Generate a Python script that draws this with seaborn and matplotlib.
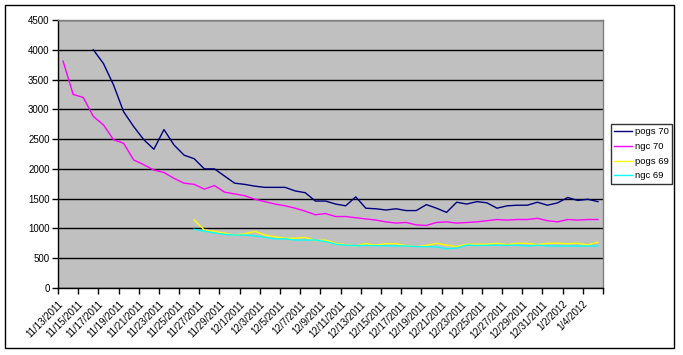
import numpy as np
import pandas as pd
import matplotlib
matplotlib.use("Agg")
import matplotlib.pyplot as plt
import seaborn as sns
from matplotlib.patches import Rectangle

nan = np.nan
dates = pd.date_range("2011-11-13", "2012-01-05", freq="D")

pogs70 = [nan, nan, nan, 4000, 3770, 3410, 2960, 2710, 2490, 2330, 2660, 2400, 2230, 2170,
          2000, 2000, 1880, 1760, 1740, 1710, 1690, 1690, 1690, 1630, 1600, 1460, 1460, 1410,
          1380, 1530, 1340, 1330, 1310, 1330, 1300, 1300, 1400, 1340, 1270, 1440, 1410, 1450,
          1430, 1340, 1380, 1390, 1390, 1440, 1390, 1430, 1520, 1470, 1490, 1450]
ngc70 = [3810, 3250, 3200, 2880, 2740, 2490, 2430, 2150, 2070, 1980, 1940, 1840, 1760, 1740,
         1660, 1720, 1610, 1580, 1550, 1490, 1450, 1410, 1380, 1340, 1290, 1230, 1250, 1200,
         1200, 1180, 1160, 1140, 1110, 1090, 1100, 1060, 1050, 1100, 1110, 1090, 1100, 1110,
         1130, 1150, 1140, 1150, 1150, 1170, 1130, 1110, 1150, 1140, 1150, 1150]
pogs69 = [nan] * 13 + [1140, 975, 950, 920, 890, 910, 950, 890, 860, 835, 835, 850, 795, 805,
                       750, 730, 705, 745, 720, 745, 745, 710, 695, 715, 750, 720, 695, 735,
                       735, 735, 750, 730, 750, 750, 730, 750, 750, 745, 750, 725, 770]
ngc69 = [nan] * 13 + [985, 955, 925, 900, 890, 890, 875, 850, 825, 825, 805, 805, 805, 780,
                      735, 720, 710, 715, 710, 710, 705, 705, 695, 695, 690, 660, 670, 720,
                      715, 715, 720, 715, 720, 705, 720, 705, 705, 705, 705, 705, 705]

series_names = ["pogs 70", "ngc 70", "pogs 69", "ngc 69"]
series_colors = ["#000080", "#FF00FF", "#FFFF00", "#00FFFF"]
y_ticks = list(range(0, 4501, 500))

frames = []
for name, vals in zip(series_names, [pogs70, ngc70, pogs69, ngc69]):
    frames.append(pd.DataFrame({"day": np.arange(len(dates)), "value": vals, "series": name}))
df = pd.concat(frames, ignore_index=True).dropna()

plt.rcParams["font.family"] = ["Liberation Sans", "DejaVu Sans"]
fig = plt.figure(figsize=(6.83, 3.55), dpi=100)
ax = fig.add_axes([58 / 683, 1 - 288 / 355, (603 - 58) / 683, (288 - 20) / 355])
ax.set_facecolor("#C0C0C0")

sns.lineplot(data=df, x="day", y="value", hue="series", hue_order=series_names,
             palette=dict(zip(series_names, series_colors)), linewidth=1.0, ax=ax,
             legend=False, estimator=None)

ax.set_xlim(-0.5, len(dates) - 0.5)
ax.set_ylim(0, 4500)
ax.set_yticks(y_ticks)
ax.set_yticklabels([str(v) for v in y_ticks], fontsize=7)
ax.yaxis.grid(True, color="black", linewidth=1.0)
ax.set_axisbelow(True)

xt = np.arange(-0.5, len(dates), 2)
ax.set_xticks(xt)
labels = []
for k, p in enumerate(xt):
    idx = int(p + 0.5)
    if idx < len(dates):
        d = dates[idx]
        labels.append(f"{d.month}/{d.day}/{d.year}")
    else:
        labels.append("")
ax.set_xticklabels(labels, rotation=45, ha="right", rotation_mode="anchor", fontsize=7)
ax.tick_params(axis="both", direction="out", length=4, width=1, color="black", pad=2)
ax.tick_params(axis="x", pad=4)
ax.set_xlabel("")
ax.set_ylabel("")

for s in ["left", "bottom"]:
    ax.spines[s].set_color("black")
    ax.spines[s].set_linewidth(1.0)
for s in ["top", "right"]:
    ax.spines[s].set_color("#808080")
    ax.spines[s].set_linewidth(1.0)

handles = [plt.Line2D([], [], color=c, linewidth=1.0) for c in series_colors]
leg = fig.legend(handles, series_names, loc="center left",
                 bbox_to_anchor=(611 / 683, 1 - 154 / 355), fontsize=6.8, frameon=True,
                 fancybox=False, edgecolor="black", handlelength=1.9, handletextpad=0.3,
                 borderpad=0.35, labelspacing=0.6, borderaxespad=0)
leg.get_frame().set_linewidth(1.0)

fig.patches.append(Rectangle((4.5 / 683, 1 - 348 / 355), (674 - 4.5) / 683, (348 - 4.5) / 355,
                             transform=fig.transFigure, fill=False, edgecolor="black",
                             linewidth=1.0))

fig.savefig("out.png", dpi=100)
